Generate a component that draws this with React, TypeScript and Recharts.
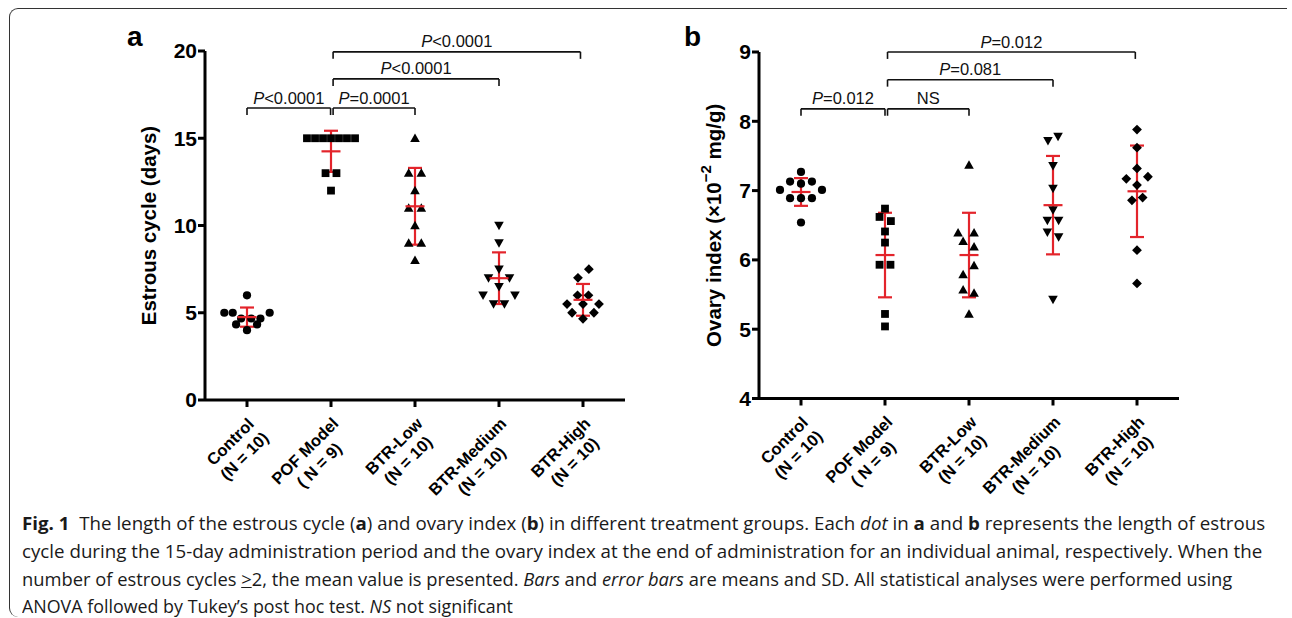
import React, { useLayoutEffect, useRef, useState } from 'react';
import { ScatterChart, Scatter, XAxis, YAxis, ErrorBar, ReferenceLine } from 'recharts';

const groups = ['Control', 'POF Model', 'BTR-Low', 'BTR-Medium', 'BTR-High'];
const groupSizes = ['(N = 10)', '( N = 9)', '(N = 10)', '(N = 10)', '(N = 10)'];

// panel a: length of estrous cycle (days), one value per animal.
// *Spread = horizontal scatter of each dot around its group, in category units
const cycleControl = [6, 5, 5, 5, 4.67, 4.67, 4.67, 4.33, 4.33, 4];
const cycleControlSpread = [0, -0.27, -0.17, 0.27, -0.07, 0.05, 0.16, -0.13, 0.12, 0];
const cyclePOF = [15, 15, 15, 15, 15, 15, 15, 13, 13, 12];
const cyclePOFSpread = [-0.286, -0.19, -0.095, 0, 0.095, 0.19, 0.286, -0.065, 0.065, 0];
const cycleLow = [15, 13, 13, 12, 11, 11, 10, 9, 9, 8];
const cycleLowSpread = [0, -0.075, 0.075, 0, -0.075, 0.075, 0, -0.075, 0.075, 0];
const cycleMedium = [10, 9, 7.5, 7, 7, 6.5, 6, 6, 5.5, 5.5];
const cycleMediumSpread = [0, 0, 0, -0.125, 0.125, 0, -0.19, 0.19, -0.065, 0.065];
const cycleHigh = [7.5, 7, 6, 6, 5.5, 5.5, 5.5, 5, 5, 4.65];
const cycleHighSpread = [0.07, -0.06, -0.065, 0.065, -0.19, 0, 0.19, -0.13, 0.13, 0];
const cycleMean = [4.75, 14.25, 11.1, 6.98, 5.74];
const cycleSD = [0.55, 1.18, 2.2, 1.48, 0.91];
const cycleTicks = [0, 5, 10, 15, 20];

// panel b: ovary index (x10^-2 mg/g)
const ovaryControl = [7.27, 7.13, 7.13, 7.1, 7.01, 7.01, 6.89, 6.89, 6.89, 6.54];
const ovaryControlSpread = [0, -0.13, 0.13, 0, -0.25, 0.25, -0.13, 0, 0.13, 0];
const ovaryPOF = [6.74, 6.62, 6.56, 6.41, 6.25, 5.93, 5.93, 5.22, 5.04];
const ovaryPOFSpread = [0, -0.065, 0.07, 0, 0, -0.065, 0.065, 0, 0];
const ovaryLow = [7.37, 6.39, 6.39, 6.27, 6.19, 5.92, 5.79, 5.57, 5.52, 5.22];
const ovaryLowSpread = [0, -0.13, 0.06, -0.07, 0.06, 0.06, -0.07, -0.07, 0.06, 0];
const ovaryMedium = [7.78, 7.72, 7.36, 7.03, 6.72, 6.57, 6.57, 6.4, 6.33, 5.43];
const ovaryMediumSpread = [0.06, -0.06, 0, 0, 0, -0.067, 0.067, -0.067, 0.067, 0];
const ovaryHigh = [7.88, 7.62, 7.32, 7.2, 7.17, 7.08, 6.9, 6.86, 6.14, 5.66];
const ovaryHighSpread = [0, 0, 0, 0.13, -0.127, 0, 0.067, -0.06, 0, 0];
const ovaryMean = [6.98, 6.07, 6.07, 6.79, 6.99];
const ovarySD = [0.2, 0.61, 0.61, 0.71, 0.66];
const ovaryTicks = [4, 5, 6, 7, 8, 9];

// significance brackets: group span, bracket level, p value text
const cycleBrackets = [
  { from: 0, to: 0.995, y: 16.73, p: '<0.0001' },
  { from: 1.025, to: 2, y: 16.73, p: '=0.0001' },
  { from: 1.025, to: 3, y: 18.4, p: '<0.0001' },
  { from: 1.025, to: 3.97, y: 19.95, p: '<0.0001' },
];
const ovaryBrackets = [
  { from: 0, to: 1.0, y: 8.18, p: '=0.012' },
  { from: 1.03, to: 2, y: 8.18, p: 'NS' },
  { from: 1.03, to: 3, y: 8.6, p: '=0.081' },
  { from: 1.03, to: 3.98, y: 9.0, p: '=0.012' },
];

const RED = '#e3242b';
const FONT = "'Liberation Sans', Arial, sans-serif";
const TICK_SIZE = 16.5;
const TICK_FONT = `bold ${TICK_SIZE}px ${FONT}`;

let measureCtx: CanvasRenderingContext2D | null = null;
function textWidth(s: string, font: string) {
  if (!measureCtx && typeof document !== 'undefined') {
    measureCtx = document.createElement('canvas').getContext('2d');
  }
  if (!measureCtx) return s.length * 9;
  measureCtx.font = font;
  return measureCtx.measureText(s).width;
}

const markerShapes = ['circle', 'square', 'triangle', 'triangleDown', 'diamond'];

function Marker(kind: string) {
  return (props: any) => {
    const { cx, cy } = props;
    if (cx == null || cy == null) return <g />;
    if (kind === 'circle') return <circle cx={cx} cy={cy} r={4.1} fill="#000" />;
    if (kind === 'square') return <rect x={cx - 3.9} y={cy - 3.9} width={7.8} height={7.8} fill="#000" />;
    if (kind === 'triangle')
      return <polygon points={`${cx},${cy - 4.8} ${cx + 4.8},${cy + 3.7} ${cx - 4.8},${cy + 3.7}`} fill="#000" />;
    if (kind === 'triangleDown')
      return <polygon points={`${cx - 4.8},${cy - 3.7} ${cx + 4.8},${cy - 3.7} ${cx},${cy + 4.8}`} fill="#000" />;
    return <polygon points={`${cx},${cy - 4.9} ${cx + 4.9},${cy} ${cx},${cy + 4.9} ${cx - 4.9},${cy}`} fill="#000" />;
  };
}

const MeanLine = (props: any) => {
  const { cx, cy } = props;
  if (cx == null || cy == null) return <g />;
  return <line x1={cx - 9.5} x2={cx + 9.5} y1={cy} y2={cy} stroke={RED} strokeWidth={2.2} />;
};

const PLabel = (props: any) => {
  const { cx, cy, payload } = props;
  if (cx == null || cy == null) return <g />;
  return (
    <text x={cx} y={cy - 4.5} textAnchor="middle" fontSize={16.5} fontFamily={FONT} fill="#111">
      {payload.p === 'NS' ? 'NS' : (
        <>
          <tspan fontStyle="italic">P</tspan>
          <tspan>{payload.p}</tspan>
        </>
      )}
    </text>
  );
};

const GroupTick = (props: any) => {
  const { x, y, payload } = props;
  const i = Math.round(payload.value);
  const l1 = groups[i];
  const l2 = groupSizes[i];
  const w = Math.max(textWidth(l1, TICK_FONT), textWidth(l2, TICK_FONT));
  const u = -w / 2 - 10;
  return (
    <g transform={`translate(${x},${y - 7})`}>
      <text transform="rotate(-45)" textAnchor="middle" fontSize={TICK_SIZE} fontWeight="bold" fontFamily={FONT} fill="#000">
        <tspan x={u} y={22}>{l1}</tspan>
        <tspan x={u} y={42}>{l2}</tspan>
      </text>
    </g>
  );
};

type PanelProps = {
  groupValues: number[][];
  groupSpread: number[][];
  mean: number[];
  sd: number[];
  ticks: number[];
  brackets: { from: number; to: number; y: number; p: string }[];
  drop: number;
  title: React.ReactNode;
  titleDx: number;
  margin: { top: number; right: number; bottom: number; left: number };
  width: number;
  height: number;
};

function Panel(p: PanelProps) {
  const series = p.groupValues.map((vals, g) =>
    vals.map((v, k) => ({ x: g + p.groupSpread[g][k], y: v }))
  );
  const stats = p.mean.map((m, g) => ({ x: g, y: m, sd: p.sd[g] }));
  const labels = p.brackets.map((b) => ({ x: (b.from + b.to) / 2, y: b.y, p: b.p }));
  const axisLine = { stroke: '#000', strokeWidth: 3 };
  return (
    <ScatterChart width={p.width} height={p.height} margin={p.margin}>
      <XAxis
        type="number"
        dataKey="x"
        domain={[-0.5, 4.5]}
        ticks={[0, 1, 2, 3, 4]}
        interval={0}
        height={100}
        tickSize={7}
        axisLine={axisLine}
        tickLine={axisLine}
        tick={<GroupTick />}
      />
      <YAxis
        type="number"
        dataKey="y"
        domain={[p.ticks[0], p.ticks[p.ticks.length - 1]]}
        ticks={p.ticks}
        interval={0}
        width={60}
        tickSize={7}
        tickMargin={1}
        axisLine={axisLine}
        tickLine={axisLine}
        tick={{ fill: '#000', fontSize: 21, fontWeight: 'bold', fontFamily: FONT }}
        label={{
          content: (lp: any) => {
            const vb = lp.viewBox || { x: p.margin.left, y: p.margin.top, width: 60, height: p.height - p.margin.top - p.margin.bottom - 100 };
            const cx = vb.x + vb.width / 2 + p.titleDx;
            const cy = vb.y + vb.height / 2;
            return (
              <text
                transform={`translate(${cx},${cy}) rotate(-90)`}
                textAnchor="middle"
                dominantBaseline="central"
                fontSize={20.5}
                fontWeight="bold"
                fontFamily={FONT}
                fill="#000"
              >
                {p.title}
              </text>
            );
          },
        }}
      />
      {p.brackets.map((b, i) => (
        <ReferenceLine
          key={`h${i}`}
          segment={[{ x: b.from, y: b.y }, { x: b.to, y: b.y }]}
          stroke="#111"
          strokeWidth={1.6}
          ifOverflow="visible"
        />
      ))}
      {p.brackets.map((b, i) => (
        <ReferenceLine
          key={`l${i}`}
          segment={[{ x: b.from, y: b.y }, { x: b.from, y: b.y - p.drop }]}
          stroke="#111"
          strokeWidth={1.6}
          ifOverflow="visible"
        />
      ))}
      {p.brackets.map((b, i) => (
        <ReferenceLine
          key={`r${i}`}
          segment={[{ x: b.to, y: b.y }, { x: b.to, y: b.y - p.drop }]}
          stroke="#111"
          strokeWidth={1.6}
          ifOverflow="visible"
        />
      ))}
      {series.map((d, g) => (
        <Scatter key={g} data={d} shape={Marker(markerShapes[g])} isAnimationActive={false} />
      ))}
      <Scatter data={stats} shape={MeanLine} isAnimationActive={false}>
        <ErrorBar dataKey="sd" direction="y" width={7} stroke={RED} strokeWidth={2.2} />
      </Scatter>
      <Scatter data={labels} shape={PLabel} isAnimationActive={false} />
    </ScatterChart>
  );
}

const capTargets = [1243, 1240, 1210, 491];
const capTops = [513, 541, 569, 596];

function Caption() {
  const refs = useRef<(HTMLDivElement | null)[]>([]);
  const [scales, setScales] = useState<number[]>([1, 1, 1, 1]);
  useLayoutEffect(() => {
    const s = refs.current.map((el, i) => (el ? capTargets[i] / el.scrollWidth : 1));
    setScales(s);
  }, []);
  const lines: React.ReactNode[] = [
    <>
      <b>Fig. 1</b>&nbsp; The length of the estrous cycle (<b>a</b>) and ovary index (<b>b</b>) in different treatment groups. Each <i>dot</i> in <b>a</b> and <b>b</b> represents the length of estrous
    </>,
    <>cycle during the 15-day administration period and the ovary index at the end of administration for an individual animal, respectively. When the</>,
    <>
      number of estrous cycles <span style={{ textDecoration: 'underline' }}>&gt;</span>2, the mean value is presented. <i>Bars</i> and <i>error bars</i> are means and SD. All statistical analyses were performed using
    </>,
    <>
      ANOVA followed by Tukey’s post hoc test. <i>NS</i> not significant
    </>,
  ];
  return (
    <>
      {lines.map((l, i) => (
        <div
          key={i}
          ref={(el) => {
            refs.current[i] = el;
          }}
          style={{
            position: 'absolute',
            left: 22,
            top: capTops[i],
            whiteSpace: 'nowrap',
            fontFamily: "'Open Sans', sans-serif",
            fontSize: 18,
            lineHeight: '20px',
            color: '#1a1a1a',
            transformOrigin: 'left top',
            transform: `scaleX(${scales[i]})`,
          }}
        >
          {l}
        </div>
      ))}
    </>
  );
}

export default function App() {
  return (
    <div style={{ position: 'absolute', left: 0, top: 0, width: 1292, height: 618, background: '#fff', overflow: 'hidden' }}>
      <div
        style={{
          position: 'absolute',
          left: 9,
          top: 8,
          width: 1277,
          height: 608,
          borderTop: '1.4px solid #333',
          borderLeft: '1.4px solid #333',
          borderTopLeftRadius: 9,
          borderBottomLeftRadius: 9,
        }}
      />
      <div style={{ position: 'absolute', left: 127, top: 21, fontFamily: FONT, fontWeight: 'bold', fontSize: 28 }}>a</div>
      <div style={{ position: 'absolute', left: 684, top: 21, fontFamily: FONT, fontWeight: 'bold', fontSize: 28 }}>b</div>
      <div style={{ position: 'absolute', left: 0, top: 0 }}>
        <Panel
          groupValues={[cycleControl, cyclePOF, cycleLow, cycleMedium, cycleHigh]}
          groupSpread={[cycleControlSpread, cyclePOFSpread, cycleLowSpread, cycleMediumSpread, cycleHighSpread]}
          mean={cycleMean}
          sd={cycleSD}
          ticks={cycleTicks}
          brackets={cycleBrackets}
          drop={0.4}
          title="Estrous cycle (days)"
          titleDx={-27}
          width={650}
          height={520}
          margin={{ top: 51, right: 25, bottom: 20, left: 145 }}
        />
      </div>
      <div style={{ position: 'absolute', left: 600, top: 0 }}>
        <Panel
          groupValues={[ovaryControl, ovaryPOF, ovaryLow, ovaryMedium, ovaryHigh]}
          groupSpread={[ovaryControlSpread, ovaryPOFSpread, ovaryLowSpread, ovaryMediumSpread, ovaryHighSpread]}
          mean={ovaryMean}
          sd={ovarySD}
          ticks={ovaryTicks}
          brackets={ovaryBrackets}
          drop={0.1}
          title={
            <>
              <tspan>Ovary index (×10</tspan>
              <tspan dy={-8} fontSize={15}>−2</tspan>
              <tspan dy={8}> mg/g)</tspan>
            </>
          }
          titleDx={-16}
          width={610}
          height={520}
          margin={{ top: 52, right: 31, bottom: 21.5, left: 99 }}
        />
      </div>
      <Caption />
    </div>
  );
}
